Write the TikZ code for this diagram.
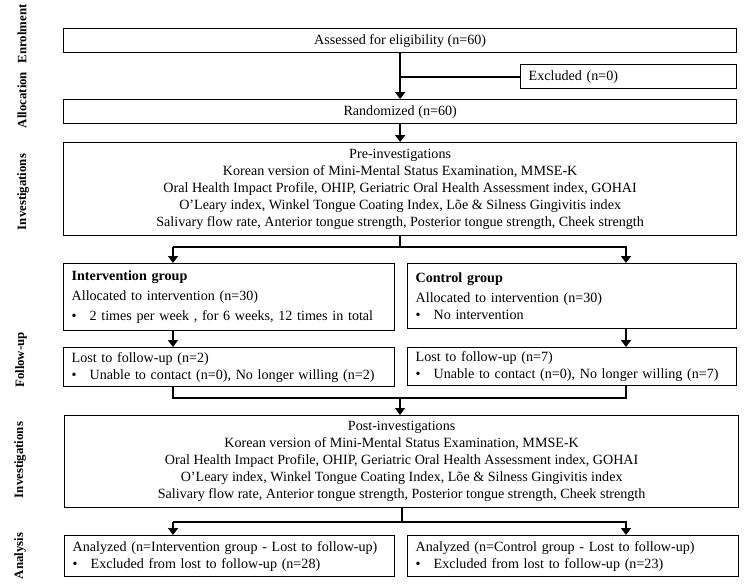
\documentclass[tikz,border=0pt]{standalone}
\usepackage{fontspec}
\setmainfont{Liberation Serif}
\usetikzlibrary{arrows.meta,calc}
\newcommand{\bul}{\makebox[18pt][l]{\textbullet}}
\tikzset{
  x=1pt,y=1pt,
  box/.style={draw=black,line width=1.3pt,inner sep=0pt,anchor=north west,
    font=\fontsize{14.1}{17}\selectfont,align=center},
  lbox/.style={draw=black,line width=1.3pt,inner xsep=8pt,inner ysep=0pt,anchor=north west,
    font=\fontsize{14.1}{17}\selectfont,align=left},
  conn/.style={line width=1.8pt,draw=black},
  arr/.style={conn,-{Triangle[width=10pt,length=7pt]}},
  side/.style={font=\bfseries\fontsize{12.8}{15}\selectfont,rotate=90,inner sep=0pt}
}
\begin{document}
\begin{tikzpicture}
\useasboundingbox (0,0) rectangle (752,-587);
% side labels
\node[side] (lEnr) at (22,-34) {Enrolment};
\node[side] (lAll) at (22,-100) {Allocation};
\node[side] (lInv1) at (23,-192) {Investigations};
\node[side] (lFol) at (21,-360) {Follow-up};
\node[side] (lInv2) at (20,-460) {Investigations};
\node[side] (lAna) at (20,-556) {Analysis};
% boxes
\node[box,minimum width=673pt,minimum height=24pt] (assess) at (63,-28) {Assessed for eligibility (n=60)};
\node[lbox,minimum width=216pt,minimum height=24pt,text width=200pt] (excl) at (520,-64) {Excluded (n=0)};
\node[box,minimum width=673pt,minimum height=24pt] (rand) at (63,-99) {Randomized (n=60)};
\node[box,minimum width=673pt,minimum height=93pt] (pre) at (63,-142) {Pre-investigations\\
Korean version of Mini-Mental Status Examination, MMSE-K\\
Oral Health Impact Profile, OHIP, Geriatric Oral Health Assessment index, GOHAI\\
O'Leary index, Winkel Tongue Coating Index, Lõe \& Silness Gingivitis index\\
Salivary flow rate, Anterior tongue strength, Posterior tongue strength, Cheek strength};
\node[lbox,minimum width=331pt,minimum height=67pt,text width=315pt] (intv) at (63,-263) {\textbf{Intervention group}\\[3pt]
Allocated to intervention (n=30)\\[3pt]
\bul 2 times per week , for 6 weeks, 12 times in total};
\node[lbox,minimum width=329pt,minimum height=65pt,text width=313pt] (ctrl) at (407,-263) {\textbf{Control group}\\[3pt]
Allocated to intervention (n=30)\\
\bul No intervention};
\node[lbox,minimum width=331pt,minimum height=39pt,text width=315pt] (lostL) at (63,-347) {Lost to follow-up (n=2)\\
\bul Unable to contact (n=0), No longer willing (n=2)};
\node[lbox,minimum width=329pt,minimum height=38pt,text width=313pt] (lostR) at (407,-347) {Lost to follow-up (n=7)\\
\bul Unable to contact (n=0), No longer willing (n=7)};
\node[box,minimum width=674pt,minimum height=92pt] (post) at (64,-415) {Post-investigations\\
Korean version of Mini-Mental Status Examination, MMSE-K\\
Oral Health Impact Profile, OHIP, Geriatric Oral Health Assessment index, GOHAI\\
O'Leary index, Winkel Tongue Coating Index, Lõe \& Silness Gingivitis index\\
Salivary flow rate, Anterior tongue strength, Posterior tongue strength, Cheek strength};
\node[lbox,minimum width=330pt,minimum height=41pt,text width=314pt] (anL) at (64,-535) {Analyzed (n=Intervention group - Lost to follow-up)\\
\bul Excluded from lost to follow-up (n=28)};
\node[lbox,minimum width=331pt,minimum height=41pt,text width=315pt] (anR) at (407,-535) {Analyzed (n=Control group - Lost to follow-up)\\
\bul Excluded from lost to follow-up (n=23)};
% junction coordinates
\coordinate (jL) at (173,-247);
\coordinate (jR) at (626,-247);
\coordinate (m) at (400,-398);
\coordinate (k) at (400,-522);
% connectors
\draw[arr] (assess.south) -- (rand.north);
\draw[conn] (excl.west) -- (excl.west -| assess.south);
\draw[arr] (rand.south) -- (pre.north);
\draw[conn] (pre.south) -- (pre.south |- jL);
\draw[arr] (jL) -- (jL |- intv.north);
\draw[arr] (jL) -- (jR) -- (jR |- ctrl.north);
\draw[arr] (jL |- intv.south) -- (jL |- lostL.north);
\draw[arr] (jR |- ctrl.south) -- (jR |- lostR.north);
\draw[conn] (jL |- lostL.south) -- (jL |- m) -- (jR |- m) -- (jR |- lostR.south);
\draw[arr] (m) -- (m |- post.north);
\draw[conn] (post.south) -- (post.south |- k);
\draw[arr] (jL |- k) -- (jL |- anL.north);
\draw[arr] (jL |- k) -- (jR |- k) -- (jR |- anR.north);
\end{tikzpicture}
\end{document}
